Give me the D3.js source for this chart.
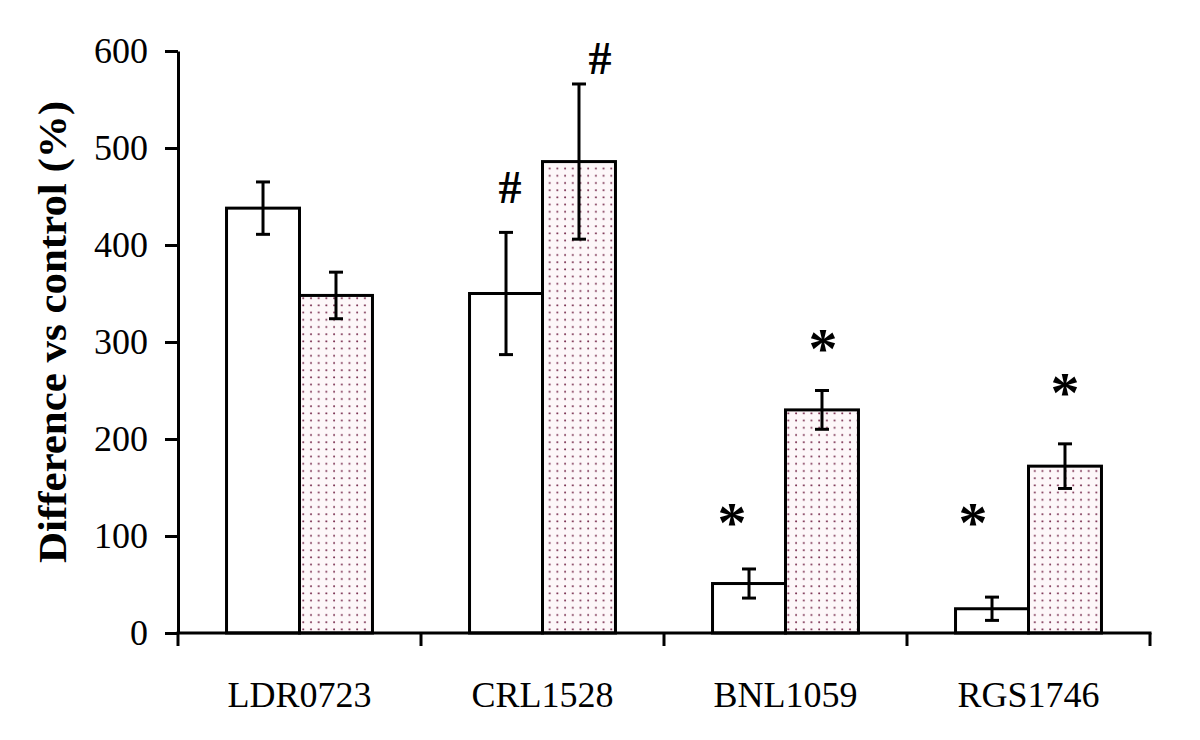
<!DOCTYPE html>
<html>
<head>
<meta charset="utf-8">
<script src="https://cdn.jsdelivr.net/npm/d3@7"></script>
<style>
  html, body { margin: 0; padding: 0; background: #fff; }
  svg { display: block; }
  text { font-family: "Liberation Serif", "Times New Roman", serif; fill: #000; }
</style>
</head>
<body>
<svg id="chart" width="1200" height="740"></svg>
<script>
// ---- data ----
const categories = ["LDR0723", "CRL1528", "BNL1059", "RGS1746"];
const seriesKeys = ["open", "dotted"];
const openValues   = [438, 350, 51, 25];
const openErrors   = [27, 63, 15, 12];
const dottedValues = [348, 486, 230, 172];
const dottedErrors = [24, 80, 20, 23];
const yTicks = [0, 100, 200, 300, 400, 500, 600];
const yTitle = "Difference vs control (%)";
// annotation symbol: category, series, level (in axis units) where it sits
const annotations = [
  { cat: "CRL1528", series: "open",   sym: "#", level: 460 },
  { cat: "CRL1528", series: "dotted", sym: "#", level: 593 },
  { cat: "BNL1059", series: "open",   sym: "*", level: 124 },
  { cat: "BNL1059", series: "dotted", sym: "*", level: 303 },
  { cat: "RGS1746", series: "open",   sym: "*", level: 124 },
  { cat: "RGS1746", series: "dotted", sym: "*", level: 258 }
];

// ---- layout ----
const svg = d3.select("#chart");
const mLeft = 178, mRight = 1150, mTop = 51, mBottom = 633;
const annDx = { "CRL1528|open": 4, "CRL1528|dotted": 21, "BNL1059|open": -17,
                "BNL1059|dotted": 1, "RGS1746|open": -19, "RGS1746|dotted": 0 };

const x0 = d3.scaleBand().domain(categories).range([mLeft, mRight]).paddingInner(0).paddingOuter(0);
const x1 = d3.scaleBand().domain(seriesKeys).range([0, x0.bandwidth()]).paddingInner(0).paddingOuter(0.665);
const y = d3.scaleLinear().domain([0, 600]).range([mBottom, mTop]);

// pattern
const defs = svg.append("defs");
const pat = defs.append("pattern").attr("id", "dots")
  .attr("patternUnits", "userSpaceOnUse").attr("width", 7.7).attr("height", 7.2)
  .attr("x", 0).attr("y", 0);
pat.append("rect").attr("width", 7.7).attr("height", 7.2).attr("fill", "#fdf7f9");
pat.append("circle").attr("cx", 3).attr("cy", 3).attr("r", 1.0).attr("fill", "#74284a");

const rows = categories.map((c, i) => [
  { cat: c, series: "open", v: openValues[i], e: openErrors[i] },
  { cat: c, series: "dotted", v: dottedValues[i], e: dottedErrors[i] }
]).flat();

// bars
svg.append("g").selectAll("rect").data(rows).join("rect")
  .attr("x", d => x0(d.cat) + x1(d.series))
  .attr("y", d => y(d.v))
  .attr("width", x1.bandwidth())
  .attr("height", d => y(0) - y(d.v))
  .attr("fill", d => d.series === "open" ? "#fff" : "url(#dots)")
  .attr("stroke", "#000").attr("stroke-width", 3);

// error bars
const eg = svg.append("g").attr("stroke", "#000").attr("stroke-width", 3);
rows.forEach(d => {
  const cx = x0(d.cat) + x1(d.series) + x1.bandwidth() / 2;
  eg.append("line").attr("x1", cx).attr("x2", cx).attr("y1", y(d.v + d.e)).attr("y2", y(d.v - d.e));
  [d.v + d.e, d.v - d.e].forEach(val => {
    eg.append("line").attr("x1", cx - 7).attr("x2", cx + 7).attr("y1", y(val)).attr("y2", y(val));
  });
});

// axes
const yAxis = d3.axisLeft(y).tickValues(yTicks).tickSize(13).tickPadding(17).tickSizeOuter(0);
const gy = svg.append("g").attr("transform", `translate(${mLeft},0)`).call(yAxis);
gy.select(".domain").attr("stroke", "#000").attr("stroke-width", 3);
gy.selectAll(".tick line").attr("stroke", "#000").attr("stroke-width", 3);
gy.selectAll(".tick text").attr("font-size", 36).attr("font-family", "Liberation Serif").attr("fill", "#000");

const gx = svg.append("g").attr("transform", `translate(0,${mBottom})`);
gx.append("line").attr("x1", mLeft - 1.5).attr("x2", mRight + 1.5).attr("y1", 0).attr("y2", 0)
  .attr("stroke", "#000").attr("stroke-width", 3);
const boundaries = categories.map(c => x0(c)).concat([mRight]);
gx.selectAll("line.tk").data(boundaries).join("line").attr("class", "tk")
  .attr("x1", d => d).attr("x2", d => d).attr("y1", 0).attr("y2", 13)
  .attr("stroke", "#000").attr("stroke-width", 3);
gx.selectAll("text").data(categories).join("text")
  .attr("x", d => x0(d) + x0.bandwidth() / 2).attr("y", 74)
  .attr("text-anchor", "middle").attr("font-size", 36).text(d => d);

// y title
svg.append("text")
  .attr("transform", `translate(66,332) rotate(-90)`)
  .attr("text-anchor", "middle").attr("font-size", 40).attr("font-weight", "bold")
  .attr("textLength", 462).attr("lengthAdjust", "spacingAndGlyphs")
  .text(yTitle);

// annotations
svg.append("g").selectAll("text").data(annotations).join("text")
  .attr("x", d => x0(d.cat) + x1(d.series) + x1.bandwidth() / 2 + annDx[d.cat + "|" + d.series])
  .attr("y", d => y(d.level) + (d.sym === "*" ? 29 : 16))
  .attr("text-anchor", "middle").attr("font-weight", "bold")
  .attr("font-size", d => d.sym === "*" ? 58 : 46)
  .text(d => d.sym);
</script>
</body>
</html>
